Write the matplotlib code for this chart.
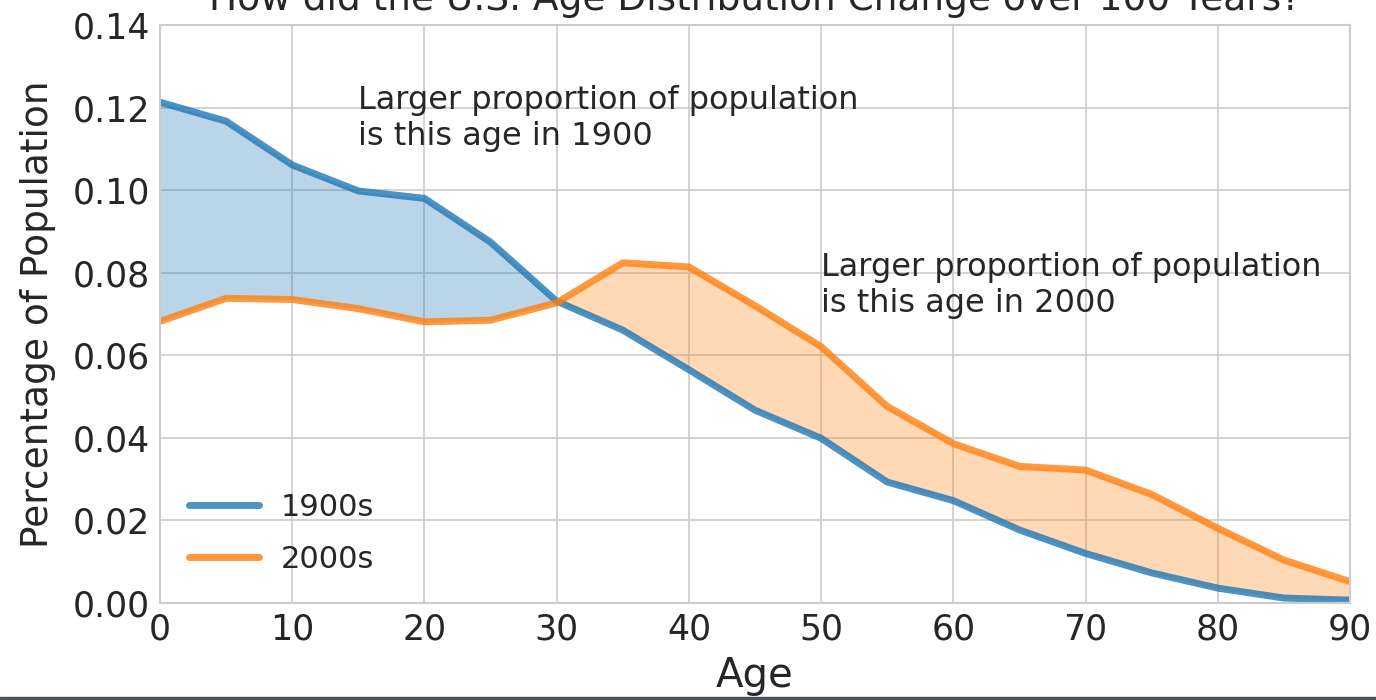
import matplotlib
matplotlib.use('Agg')
import matplotlib.pyplot as plt
from matplotlib.patches import Rectangle

ages = [0, 5, 10, 15, 20, 25, 30, 35, 40, 45, 50, 55, 60, 65, 70, 75, 80, 85, 90]
pct_1900 = [0.1213, 0.1167, 0.1061, 0.0998, 0.0980, 0.0874, 0.0731, 0.0661, 0.0565,
            0.0467, 0.0399, 0.0293, 0.0248, 0.0177, 0.0120, 0.0073, 0.0036, 0.0012, 0.0007]
pct_2000 = [0.0682, 0.0738, 0.0735, 0.0713, 0.0681, 0.0685, 0.0727, 0.0824, 0.0814,
            0.0720, 0.0621, 0.0476, 0.0386, 0.0331, 0.0322, 0.0263, 0.0181, 0.0104, 0.0052]
x_ticks = [0, 10, 20, 30, 40, 50, 60, 70, 80, 90]
y_ticks = [0.00, 0.02, 0.04, 0.06, 0.08, 0.10, 0.12, 0.14]

plt.style.use('seaborn-v0_8-whitegrid')
plt.rcParams['font.family'] = ['DejaVu Sans']
plt.rcParams['text.color'] = '.15'
plt.rcParams['axes.labelcolor'] = '.15'

fig = plt.figure(figsize=(13.76, 7.0), dpi=100)
ax = fig.add_axes([160 / 1376, 1 - 603 / 700, 1190 / 1376, 578 / 700])

blue = '#1f77b4'
orange = '#ff7f0e'
ax.plot(ages, pct_1900, color=blue, lw=5, alpha=0.8, label='1900s')
ax.plot(ages, pct_2000, color=orange, lw=5, alpha=0.8, label='2000s')
ax.fill_between(ages, pct_1900, pct_2000, where=[a >= b for a, b in zip(pct_1900, pct_2000)],
                interpolate=True, color=blue, alpha=0.3, lw=0)
ax.fill_between(ages, pct_1900, pct_2000, where=[a <= b for a, b in zip(pct_1900, pct_2000)],
                interpolate=True, color=orange, alpha=0.3, lw=0)

ax.text(15, 0.111, 'Larger proportion of population\nis this age in 1900', fontsize=23, color='.15')
ax.text(50, 0.0705, 'Larger proportion of population\nis this age in 2000', fontsize=23, color='.15')

ax.set_xlim(0, 90)
ax.set_ylim(0, 0.14)
ax.set_xticks(x_ticks)
ax.set_yticks(y_ticks)
ax.tick_params(labelsize=25, colors='.15', length=0, pad=7)
for s in ax.spines.values():
    s.set_color('.8')
    s.set_linewidth(1.5)
ax.grid(color='.8', lw=1.2)

ax.set_xlabel('Age', fontsize=29, labelpad=7)
ax.set_ylabel('Percentage of Population', fontsize=27, labelpad=12)
ax.set_title('How did the U.S. Age Distribution Change over 100 Years?', fontsize=27, pad=11, color='.15')

leg = ax.legend(loc='lower left', fontsize=22, frameon=False, handlelength=2.3,
                handletextpad=0.7, labelspacing=0.75, borderaxespad=0.55)

fig.patches.append(Rectangle((0, 0), 1, 3 / 700, transform=fig.transFigure, color='#4b5563'))

fig.savefig('out.png', dpi=100)
